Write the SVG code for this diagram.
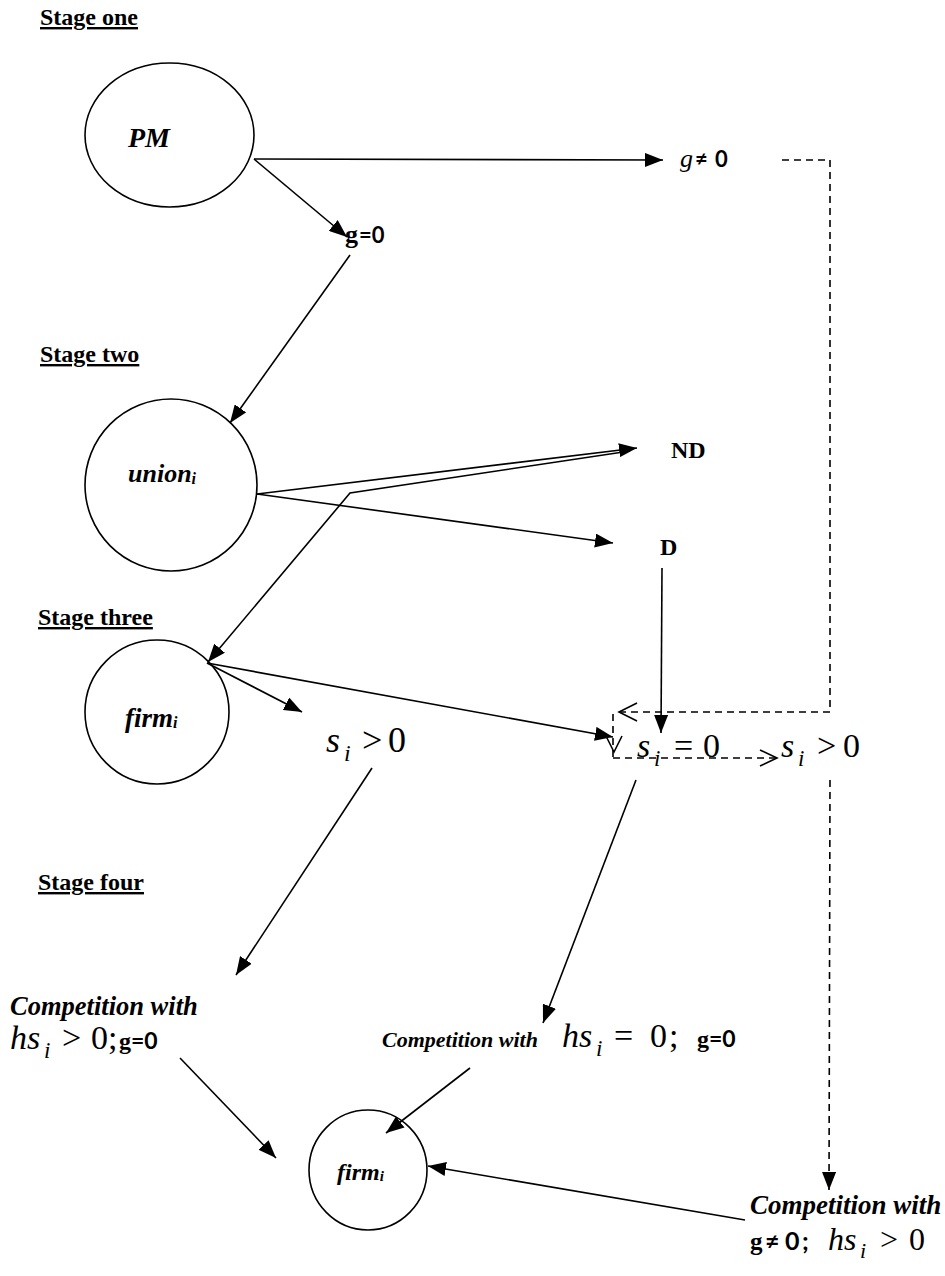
<svg xmlns="http://www.w3.org/2000/svg" width="945" height="1276" viewBox="0 0 945 1276">
  <style>
    .stage { font-family: "Liberation Serif", "Times New Roman", serif; font-weight: bold; font-size: 24px; text-decoration: underline; fill: #000; }
    .node { fill: none; stroke: #000; stroke-width: 1.6; }
    .lbl { font-family: "Liberation Serif", "Times New Roman", serif; font-weight: bold; font-style: italic; fill: #000; }
    .plain { font-family: "Liberation Serif", "Times New Roman", serif; font-weight: bold; fill: #000; }
    .math { font-family: "Liberation Serif", "Times New Roman", serif; fill: #000; }
    .mi { font-style: italic; }
    .sans { font-family: Lato, "Liberation Sans", sans-serif; font-weight: bold; fill: #000; }
    .conn { fill: none; stroke: #000; stroke-width: 1.6; }
    .dash { fill: none; stroke: #000; stroke-width: 1.6; stroke-dasharray: 7 5; }
    .open { fill: none; stroke: #000; stroke-width: 1.6; }
  </style>
  <defs>
    <marker id="ah" viewBox="0 0 18 14" refX="18" refY="7" markerWidth="18" markerHeight="14" orient="auto" markerUnits="userSpaceOnUse">
      <path d="M0,0 L18,7 L0,14 z" fill="#000"/>
    </marker>
  </defs>

  <rect width="945" height="1276" fill="#fff"/>

  <!-- stage headings -->
  <text class="stage" x="40" y="25">Stage one</text>
  <text class="stage" x="40" y="362">Stage two</text>
  <text class="stage" x="38" y="625">Stage three</text>
  <text class="stage" x="38" y="890">Stage four</text>

  <!-- stage one -->
  <g id="pm">
    <ellipse class="node" cx="169.5" cy="135" rx="84.5" ry="72"/>
    <text class="lbl" x="128" y="147" font-size="28">PM</text>
  </g>
  <g id="g-nonzero">
    <text y="167"><tspan class="math mi" font-size="26" x="680">g</tspan><tspan class="sans" font-size="22" x="695">≠</tspan><tspan class="sans" font-size="22" x="715">0</tspan></text>
  </g>
  <g id="g-zero">
    <text y="243"><tspan class="plain" font-size="26" x="345">g</tspan><tspan class="sans" font-size="22" x="359">=0</tspan></text>
  </g>

  <!-- stage two -->
  <g id="union">
    <circle class="node" cx="171" cy="485" r="86"/>
    <text class="lbl" x="128" y="482" font-size="26">union<tspan font-size="16" dy="2">i</tspan></text>
  </g>
  <g id="nd">
    <text class="plain" x="671" y="458" font-size="24">ND</text>
  </g>
  <g id="d">
    <text class="plain" x="660" y="555" font-size="24">D</text>
  </g>

  <!-- stage three -->
  <g id="firm">
    <circle class="node" cx="157" cy="712" r="72"/>
    <text class="lbl" x="125" y="727" font-size="27">firm<tspan font-size="16" dy="1">i</tspan></text>
  </g>
  <g id="s-pos-left">
    <text class="math" font-size="36" y="752"><tspan class="mi" x="326">s</tspan><tspan class="mi" font-size="24" x="344" dy="9">i</tspan><tspan x="362" dy="-9">&gt;</tspan><tspan x="388">0</tspan></text>
  </g>
  <g id="s-zero">
    <text class="math" font-size="34" y="757"><tspan class="mi" x="637">s</tspan><tspan class="mi" font-size="23" x="654" dy="9">i</tspan><tspan x="674" dy="-9">=</tspan><tspan x="703">0</tspan></text>
  </g>
  <g id="s-pos-right">
    <text class="math" font-size="34" y="757"><tspan class="mi" x="781">s</tspan><tspan class="mi" font-size="23" x="798" dy="9">i</tspan><tspan x="817" dy="-9">&gt;</tspan><tspan x="843">0</tspan></text>
  </g>

  <!-- stage four -->
  <g id="comp-left">
    <text class="lbl" x="10" y="1015" font-size="26.5">Competition with</text>
    <text class="math" font-size="34" y="1049"><tspan class="mi" x="10">h</tspan><tspan class="mi" x="27">s</tspan><tspan class="mi" font-size="23" x="44" dy="9">i</tspan><tspan x="62" dy="-9">&gt;</tspan><tspan x="91">0</tspan><tspan x="108">;</tspan><tspan class="plain" font-size="24" x="119">g</tspan><tspan class="sans" font-size="23">=0</tspan></text>
  </g>
  <g id="comp-mid">
    <text class="lbl" x="382" y="1047" font-size="22">Competition with</text>
    <text class="math" font-size="34" y="1047"><tspan class="mi" x="562">h</tspan><tspan class="mi" x="579">s</tspan><tspan class="mi" font-size="23" x="596" dy="9">i</tspan><tspan x="614" dy="-9">=</tspan><tspan x="650">0</tspan><tspan x="669">;</tspan><tspan class="plain" font-size="24" x="697">g</tspan><tspan class="sans" font-size="23">=0</tspan></text>
  </g>
  <g id="firm-final">
    <ellipse class="node" cx="368" cy="1170" rx="59" ry="60"/>
    <text class="lbl" x="337" y="1180" font-size="24">firm<tspan font-size="15" dy="1">i</tspan></text>
  </g>
  <g id="comp-right">
    <text class="lbl" x="750" y="1214" font-size="27">Competition with</text>
    <text y="1250"><tspan class="plain" font-size="25" x="750">g</tspan><tspan class="sans" font-size="25" x="765">≠</tspan><tspan class="sans" font-size="25" x="785">0</tspan><tspan class="sans" font-size="25" x="802">;</tspan><tspan class="math mi" font-size="32" x="828">h</tspan><tspan class="math mi" font-size="32" x="844">s</tspan><tspan class="math mi" font-size="22" x="860" dy="8">i</tspan><tspan class="math" font-size="32" x="880" dy="-8">&gt;</tspan><tspan class="math" font-size="32" x="909">0</tspan></text>
  </g>

  <!-- connectors -->
  <g id="connectors">
    <line class="conn" x1="254" y1="159" x2="663" y2="160" marker-end="url(#ah)"/>
    <line class="conn" x1="254" y1="159" x2="347" y2="237" marker-end="url(#ah)"/>
    <line class="conn" x1="350" y1="255" x2="230" y2="423" marker-end="url(#ah)"/>
    <line class="conn" x1="257" y1="494" x2="637" y2="448" marker-end="url(#ah)"/>
    <polyline class="conn" points="630,451 350,493 208,662" marker-end="url(#ah)"/>
    <line class="conn" x1="257" y1="494" x2="613" y2="543" marker-end="url(#ah)"/>
    <line class="conn" x1="662" y1="568" x2="661" y2="733" marker-end="url(#ah)"/>
    <line class="conn" x1="207" y1="663" x2="302" y2="712" marker-end="url(#ah)"/>
    <line class="conn" x1="207" y1="663" x2="613" y2="737" marker-end="url(#ah)"/>
    <!-- dashed feedback route from g≠0 -->
    <polyline class="dash" points="782,160 830,160 830,712 620,712"/>
    <polyline class="open" points="637,703 619,712 637,721"/>
    <line class="dash" x1="613" y1="714" x2="613" y2="758"/>
    <polyline class="open" points="606,736 614,752 622,736"/>
    <line class="dash" x1="613" y1="758" x2="775" y2="758"/>
    <polyline class="open" points="760,750 777,758 760,766"/>
    <line class="dash" x1="830" y1="780" x2="829" y2="1190" marker-end="url(#ah)"/>
    <!-- stage three to stage four -->
    <line class="conn" x1="372" y1="768" x2="236" y2="975" marker-end="url(#ah)"/>
    <line class="conn" x1="636" y1="780" x2="543" y2="1023" marker-end="url(#ah)"/>
    <!-- into final firm -->
    <line class="conn" x1="180" y1="1058" x2="276" y2="1158" marker-end="url(#ah)"/>
    <line class="conn" x1="470" y1="1068" x2="386" y2="1133" marker-end="url(#ah)"/>
    <line class="conn" x1="745" y1="1220" x2="428" y2="1166" marker-end="url(#ah)"/>
  </g>
</svg>
